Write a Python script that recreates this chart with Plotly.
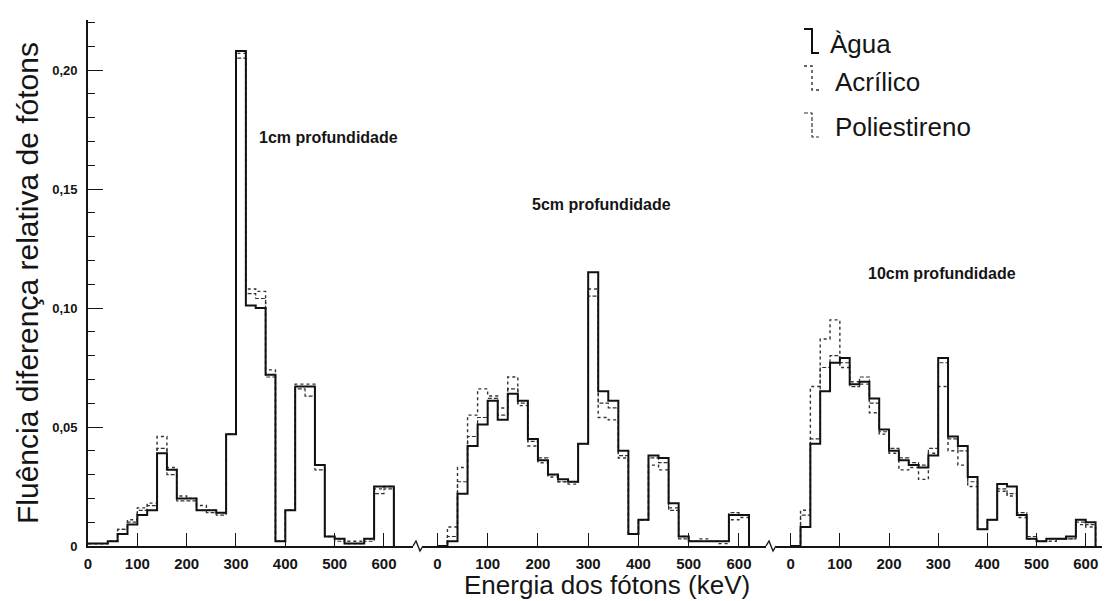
import plotly.graph_objects as go

# Energy bin edges (keV), 20 keV wide, shared by all depths
energia_bordas = list(range(0, 640, 20))
energia_ticks = [0, 100, 200, 300, 400, 500, 600]

y_ticks = [0, 0.05, 0.10, 0.15, 0.20]
y_ticktext = ["0", "0,05", "0,10", "0,15", "0,20"]

series_nomes = ["Àgua", "Acrílico", "Poliestireno"]
profundidades = ["1cm profundidade", "5cm profundidade", "10cm profundidade"]

# 1 cm depth
agua_1cm = [0.001, 0.001, 0.002, 0.005, 0.009, 0.013, 0.015, 0.039, 0.032, 0.020,
            0.020, 0.015, 0.015, 0.014, 0.047, 0.208, 0.101, 0.100, 0.072, 0.002,
            0.015, 0.067, 0.067, 0.034, 0.004, 0.003, 0.001, 0.001, 0.003, 0.025, 0.025]
acrilico_1cm = [0.001, 0.001, 0.002, 0.007, 0.011, 0.016, 0.018, 0.046, 0.033, 0.021,
                0.020, 0.017, 0.015, 0.014, 0.047, 0.207, 0.108, 0.107, 0.074, 0.002,
                0.015, 0.068, 0.068, 0.034, 0.004, 0.003, 0.002, 0.002, 0.003, 0.024, 0.025]
poliestireno_1cm = [0.001, 0.001, 0.002, 0.007, 0.010, 0.015, 0.017, 0.041, 0.030, 0.019,
                    0.019, 0.015, 0.014, 0.013, 0.047, 0.205, 0.106, 0.104, 0.071, 0.002,
                    0.015, 0.066, 0.063, 0.032, 0.004, 0.002, 0.001, 0.001, 0.002, 0.022, 0.024]

# 5 cm depth
agua_5cm = [0.0, 0.002, 0.022, 0.042, 0.051, 0.061, 0.053, 0.064, 0.061, 0.045,
            0.036, 0.030, 0.028, 0.027, 0.043, 0.115, 0.065, 0.061, 0.040, 0.005,
            0.011, 0.038, 0.037, 0.018, 0.004, 0.002, 0.002, 0.002, 0.002, 0.013, 0.013]
acrilico_5cm = [0.0, 0.008, 0.033, 0.055, 0.066, 0.063, 0.058, 0.071, 0.059, 0.042,
                0.035, 0.029, 0.027, 0.026, 0.043, 0.108, 0.054, 0.053, 0.037, 0.005,
                0.011, 0.034, 0.032, 0.016, 0.004, 0.002, 0.003, 0.002, 0.001, 0.011, 0.012]
poliestireno_5cm = [0.0, 0.004, 0.027, 0.046, 0.054, 0.062, 0.055, 0.066, 0.060, 0.044,
                    0.037, 0.030, 0.027, 0.027, 0.043, 0.105, 0.060, 0.058, 0.038, 0.005,
                    0.011, 0.037, 0.035, 0.015, 0.003, 0.002, 0.002, 0.002, 0.002, 0.014, 0.013]

# 10 cm depth
agua_10cm = [0.0, 0.008, 0.043, 0.065, 0.077, 0.079, 0.068, 0.069, 0.062, 0.049,
             0.040, 0.036, 0.034, 0.033, 0.038, 0.079, 0.046, 0.042, 0.029, 0.007,
             0.011, 0.026, 0.025, 0.013, 0.003, 0.002, 0.003, 0.003, 0.004, 0.011, 0.010]
acrilico_10cm = [0.0, 0.015, 0.067, 0.087, 0.095, 0.075, 0.069, 0.068, 0.056, 0.047,
                 0.039, 0.032, 0.033, 0.028, 0.039, 0.067, 0.040, 0.034, 0.025, 0.007,
                 0.011, 0.023, 0.021, 0.012, 0.003, 0.002, 0.002, 0.003, 0.003, 0.009, 0.008]
poliestireno_10cm = [0.0, 0.013, 0.045, 0.075, 0.080, 0.077, 0.067, 0.071, 0.060, 0.048,
                     0.041, 0.037, 0.035, 0.034, 0.041, 0.077, 0.045, 0.040, 0.027, 0.007,
                     0.011, 0.024, 0.022, 0.014, 0.004, 0.002, 0.003, 0.003, 0.003, 0.010, 0.009]

dados = [
    [agua_1cm, acrilico_1cm, poliestireno_1cm],
    [agua_5cm, acrilico_5cm, poliestireno_5cm],
    [agua_10cm, acrilico_10cm, poliestireno_10cm],
]

# ---- geometry (pixels of the 1106 x 601 canvas) ----
W, H = 1106, 601
Y_ZERO_PX, Y_TOP_PX = 546, 20
PX_POR_UNIDADE = 2380.0          # vertical pixels per unit of relative fluence
# per panel: axis start px, axis end px, px of 0 keV, px per keV
paineis = [
    (88, 413, 88.0, 0.4933),
    (423, 766, 437.4, 0.5026),
    (776, 1102, 790.7, 0.4917),
]
rotulo_pos = [(328, 137), (601, 205), (942, 273)]

FONTE = "Liberation Sans, Arial, sans-serif"
COR = "#151515"

# line styles per material: solid, dotted, dashed
estilos = [
    dict(color="#111111", width=2.0, dash="solid"),
    dict(color="#333333", width=1.4, dash="dot"),
    dict(color="#333333", width=1.2, dash="4px,2px"),
]


def fx(px):
    return px / W


def fy(py):
    return 1 - py / H


fig = go.Figure()

for i, serie_grupo in enumerate(dados):
    eixo_x = "x" if i == 0 else f"x{i + 1}"
    # draw broken lines first so the solid one sits on top
    for j in (2, 1, 0):
        valores = serie_grupo[j]
        xs = list(energia_bordas) + [energia_bordas[-1]]
        ys = list(valores) + [valores[-1], 0.0]
        fig.add_trace(go.Scatter(
            x=xs, y=ys, mode="lines", line_shape="hv",
            line=estilos[j], name=series_nomes[j],
            xaxis=eixo_x, yaxis="y", showlegend=False, hoverinfo="skip",
        ))

eixo_comum = dict(
    showline=True, linecolor=COR, linewidth=1.6, showgrid=False, zeroline=False,
    ticks="inside", ticklen=13, tickwidth=1.4, tickcolor=COR,
    tickmode="array", tickvals=energia_ticks,
    tickfont=dict(family=FONTE, size=15, color=COR, weight="bold"),
    ticklabelstandoff=3, automargin=False, fixedrange=True,
)

layout_eixos = {}
for i, (a0, a1, zero, esc) in enumerate(paineis):
    nome = "xaxis" if i == 0 else f"xaxis{i + 1}"
    layout_eixos[nome] = dict(
        eixo_comum,
        domain=[fx(a0), fx(a1)],
        range=[(a0 - zero) / esc, (a1 - zero) / esc],
        anchor="y",
    )

layout_eixos["yaxis"] = dict(
    domain=[fy(Y_ZERO_PX), fy(Y_TOP_PX)],
    range=[0, (Y_ZERO_PX - Y_TOP_PX) / PX_POR_UNIDADE],
    anchor="x",
    showline=True, linecolor=COR, linewidth=1.6, showgrid=False, zeroline=False,
    ticks="inside", ticklen=15, tickwidth=1.4, tickcolor=COR,
    tickmode="array", tickvals=y_ticks, ticktext=y_ticktext,
    tickfont=dict(family=FONTE, size=13, color=COR, weight="bold"),
    ticklabelstandoff=6,
    minor=dict(tickmode="linear", tick0=0, dtick=0.01, ticks="inside",
               ticklen=7, tickwidth=1.2, tickcolor=COR, showgrid=False),
    automargin=False, fixedrange=True,
)

anotacoes = []
for (cx, cy), texto in zip(rotulo_pos, profundidades):
    anotacoes.append(dict(
        x=fx(cx), y=fy(cy), xref="paper", yref="paper", text=texto,
        showarrow=False, xanchor="center", yanchor="middle",
        font=dict(family=FONTE, size=16, color=COR, weight="bold"),
    ))

anotacoes.append(dict(
    x=fx(27), y=fy(283), xref="paper", yref="paper", textangle=-90,
    text="Fluência diferença relativa de fótons", showarrow=False,
    xanchor="center", yanchor="middle",
    font=dict(family=FONTE, size=30, color=COR),
))
anotacoes.append(dict(
    x=fx(607), y=fy(585), xref="paper", yref="paper",
    text="Energia dos fótons (keV)", showarrow=False,
    xanchor="center", yanchor="middle",
    font=dict(family=FONTE, size=26, color=COR),
))

# legend: bracket glyph + label for each material
legenda_linhas = [(29, 53, 44, 828), (66, 90, 82, 833), (113, 137, 127, 833)]
formas = []
for j, (ytop, ybot, ytxt, xtxt) in enumerate(legenda_linhas):
    xv = 812
    caminho = (f"M {fx(xv - 8)},{fy(ytop)} L {fx(xv)},{fy(ytop)} "
               f"L {fx(xv)},{fy(ybot)} L {fx(xv + 7)},{fy(ybot)}")
    formas.append(dict(type="path", path=caminho, xref="paper", yref="paper",
                       line=dict(color=estilos[j]["color"], width=estilos[j]["width"],
                                 dash=estilos[j]["dash"])))
    anotacoes.append(dict(
        x=fx(xtxt), y=fy(ytxt), xref="paper", yref="paper", text=series_nomes[j],
        showarrow=False, xanchor="left", yanchor="middle",
        font=dict(family=FONTE, size=26, color=COR),
    ))

# axis break marks between the panels
for xa, xb in [(413, 423), (766, 776)]:
    m = (xa + xb) / 2
    caminho = (f"M {fx(xa)},{fy(Y_ZERO_PX)} L {fx(m - 2)},{fy(Y_ZERO_PX - 5)} "
               f"L {fx(m + 2)},{fy(Y_ZERO_PX + 5)} L {fx(xb)},{fy(Y_ZERO_PX)}")
    formas.append(dict(type="path", path=caminho, xref="paper", yref="paper",
                       line=dict(color=COR, width=1.4)))

fig.update_layout(
    width=W, height=H,
    margin=dict(l=0, r=0, t=0, b=0),
    paper_bgcolor="white", plot_bgcolor="white",
    showlegend=False,
    annotations=anotacoes,
    shapes=formas,
    **layout_eixos,
)

fig.write_html("out.html")
